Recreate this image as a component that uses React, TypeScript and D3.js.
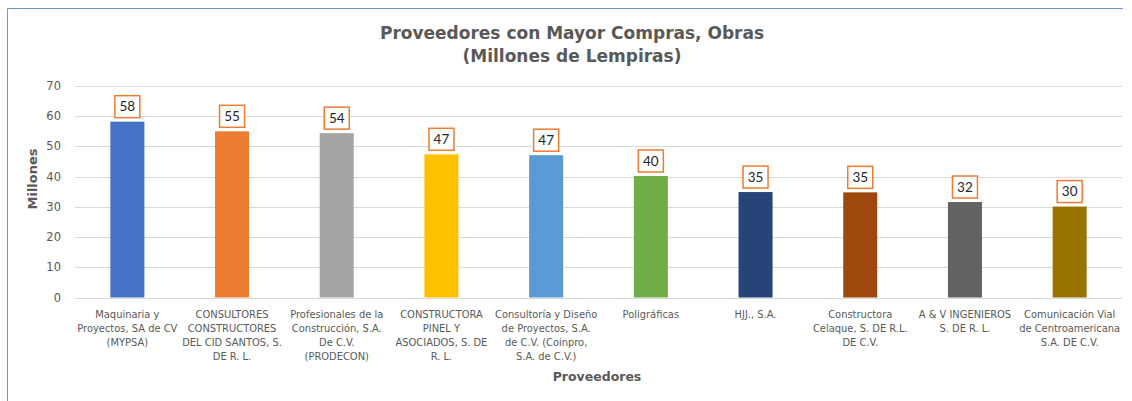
import * as d3 from 'd3';

const categories = [
  'Maquinaria y Proyectos, SA de CV (MYPSA)',
  'CONSULTORES CONSTRUCTORES DEL CID SANTOS, S. DE R. L.',
  'Profesionales de la Construcción, S.A. De C.V. (PRODECON)',
  'CONSTRUCTORA PINEL Y ASOCIADOS, S. DE R. L.',
  'Consultoría y Diseño de Proyectos, S.A. de C.V. (Coinpro, S.A. de C.V.)',
  'Poligráficas',
  'HJJ., S.A.',
  'Constructora Celaque, S. DE R.L. DE C.V.',
  'A & V INGENIEROS S. DE R. L.',
  'Comunicación Vial de Centroamericana S.A. DE C.V.',
];

// how the category text wraps under each bar
const labelLines = [
  ['Maquinaria y', 'Proyectos, SA de CV', '(MYPSA)'],
  ['CONSULTORES', 'CONSTRUCTORES', 'DEL CID SANTOS, S.', 'DE R.  L.'],
  ['Profesionales de la', 'Construcción, S.A.', 'De C.V.', '(PRODECON)'],
  ['CONSTRUCTORA', 'PINEL Y', 'ASOCIADOS, S. DE', 'R.  L.'],
  ['Consultoría y Diseño', 'de Proyectos, S.A.', 'de C.V.  (Coinpro,', 'S.A.  de C.V.)'],
  ['Poligráficas'],
  ['HJJ., S.A.'],
  ['Constructora', 'Celaque, S. DE R.L.', 'DE C.V.'],
  ['A & V  INGENIEROS', 'S. DE R.  L.'],
  ['Comunicación Vial', 'de Centroamericana', 'S.A. DE C.V.'],
];

const values = [58.2, 55.0, 54.4, 47.4, 47.1, 40.2, 34.9, 34.8, 31.6, 30.1];

const barColors = [
  '#4472C4', '#ED7D31', '#A5A5A5', '#FFC000', '#5B9BD5',
  '#70AD47', '#264478', '#9E480E', '#636363', '#997300',
];

const yTicks = [0, 10, 20, 30, 40, 50, 60, 70];

const width = 1132;
const height = 401;
const margin = { top: 86, right: 10, bottom: 102, left: 75 };

export default function App() {
  const x = d3.scaleBand()
    .domain(categories)
    .range([margin.left, width - margin.right])
    .paddingInner(0.675)
    .paddingOuter(0.3375);

  const y = d3.scaleLinear()
    .domain([0, 70])
    .range([height - margin.bottom - 1.5, margin.top]);

  const gray = '#595959';
  const sans = '"DejaVu Sans", Verdana, sans-serif';
  const cond = '"DejaVu Sans Condensed", "DejaVu Sans", sans-serif';

  return (
    <svg
      width={width}
      height={height}
      style={{ position: 'absolute', left: 0, top: 0, background: '#fff' }}
    >
      {/* chart frame */}
      <path d={`M7.5,${height} V8.5 H1123`} fill="none" stroke="#6f95d8" strokeWidth={1} />

      {/* title */}
      <text x={572} y={39} textAnchor="middle" fontFamily={sans} fontWeight="bold" fontSize={17} fill={gray}>
        Proveedores con Mayor Compras, Obras
      </text>
      <text x={572} y={62} textAnchor="middle" fontFamily={sans} fontWeight="bold" fontSize={17} fill={gray}>
        (Millones de Lempiras)
      </text>

      {/* gridlines + y ticks */}
      {yTicks.map(t => (
        <g key={t}>
          <line
            x1={margin.left} x2={width - margin.right}
            y1={Math.round(y(t)) + 0.5} y2={Math.round(y(t)) + 0.5}
            stroke="#d9d9d9" strokeWidth={1}
          />
          <text
            x={61} y={y(t) + 4} textAnchor="end"
            fontFamily={sans} fontSize={11.5} fill={gray}
          >
            {t}
          </text>
        </g>
      ))}

      {/* y axis title */}
      <text
        transform={`translate(37,${179}) rotate(-90)`}
        textAnchor="middle" fontFamily={sans} fontWeight="bold" fontSize={13} fill={gray}
      >
        Millones
      </text>

      {/* bars */}
      {values.map((v, i) => (
        <rect
          key={categories[i]}
          x={x(categories[i])}
          y={y(v)}
          width={x.bandwidth()}
          height={y(0) - y(v)}
          fill={barColors[i]}
        />
      ))}

      {/* data labels */}
      {values.map((v, i) => {
        const cx = (x(categories[i]) as number) + x.bandwidth() / 2;
        const bw = 25;
        const bh = 22;
        const by = y(v) - 4 - bh;
        return (
          <g key={'l' + i}>
            <rect
              x={cx - bw / 2} y={by} width={bw} height={bh}
              fill="#fff" stroke="#ED7D31" strokeWidth={1.5}
            />
            <text
              x={cx} y={by + bh / 2 + 4.5} textAnchor="middle"
              fontFamily="Lato, 'Open Sans', sans-serif" fontSize={13.5} fill="#262626"
            >
              {Math.round(v)}
            </text>
          </g>
        );
      })}

      {/* category labels */}
      {labelLines.map((lines, i) => {
        const cx = (x(categories[i]) as number) + x.bandwidth() / 2;
        return (
          <text
            key={'c' + i}
            textAnchor="middle" fontFamily={cond} fontSize={11} fill={gray}
          >
            {lines.map((ln, j) => (
              <tspan key={j} x={cx} y={318 + j * 14}>{ln}</tspan>
            ))}
          </text>
        );
      })}

      {/* x axis title */}
      <text
        x={597} y={381} textAnchor="middle"
        fontFamily={sans} fontWeight="bold" fontSize={12.5} fill={gray}
      >
        Proveedores
      </text>
    </svg>
  );
}
